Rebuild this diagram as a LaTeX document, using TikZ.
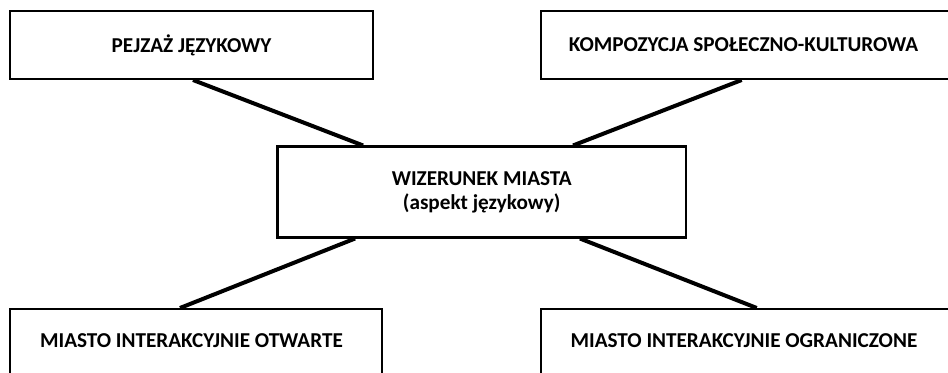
\documentclass[tikz,border=0pt]{standalone}
\usepackage{fontspec}
\setmainfont{Carlito}
\begin{document}
\begin{tikzpicture}[x=0.75pt,y=-0.75pt,
  box/.style={draw, fill=white, line width=1.5pt, rectangle, inner sep=0pt,
    align=center, font=\bfseries\fontsize{15.9}{18}\selectfont},
  boxtext/.style={font=\bfseries\fontsize{15.9}{18}\selectfont},
  link/.style={line width=3pt}]
\useasboundingbox (0,0) rectangle (948,373);
\clip (0,0) rectangle (948,373);

% outer boxes
\node[box, minimum width=272.25pt, minimum height=51pt] (tl) at (191.5,45)
  {PEJZAŻ JĘZYKOWY};
\node[box, minimum width=314.5pt, minimum height=51pt,
  label={[boxtext, xshift=-5.1pt]center:KOMPOZYCJA SPOŁECZNO-KULTUROWA}] (tr) at (750.35,45) {};
\node[box, minimum width=278.8pt, minimum height=51pt,
  label={[boxtext, xshift=-3.3pt, yshift=1.5pt]center:MIASTO INTERAKCYJNIE OTWARTE}] (bl) at (195.85,343) {};
\node[box, minimum width=314.5pt, minimum height=51pt,
  label={[boxtext, xshift=-4.8pt, yshift=1.5pt]center:MIASTO INTERAKCYJNIE OGRANICZONE}] (br) at (750.35,343) {};

% central box
\node[box, line width=1.8pt, minimum width=306.5pt, minimum height=68pt] (wz) at (481.7,192)
  {WIZERUNEK MIASTA\\(aspekt językowy)};

% connectors
\draw[link] ([xshift=1.1pt]tl.south) -- ([xshift=-89pt]wz.north);
\draw[link] ([xshift=-6.5pt]tr.south) -- ([xshift=68.5pt]wz.north);
\draw[link] ([xshift=-11.9pt]bl.north) -- ([xshift=-95pt]wz.south);
\draw[link] ([xshift=4.8pt]br.north) -- ([xshift=73.7pt]wz.south);
\end{tikzpicture}
\end{document}
